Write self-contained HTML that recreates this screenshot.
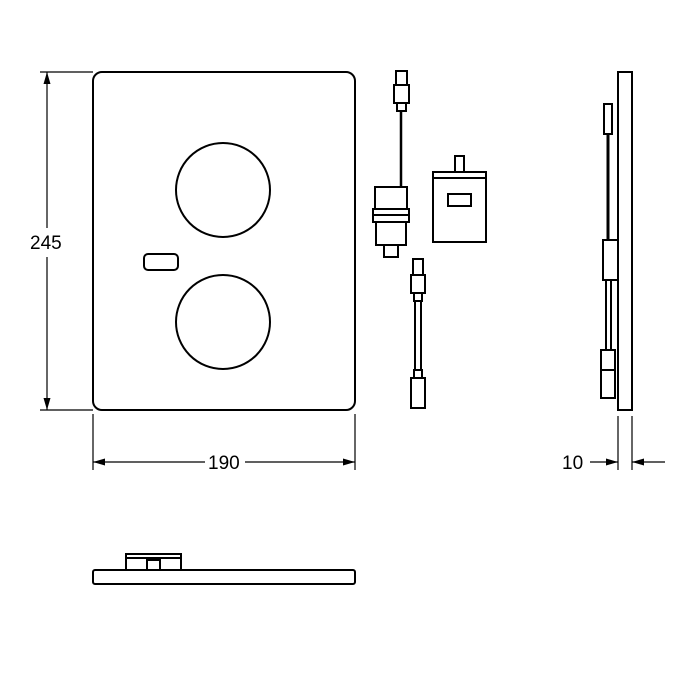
<!DOCTYPE html>
<html><head><style>body{margin:0;background:#fff}svg{display:block}</style></head><body>
<svg width="700" height="700" viewBox="0 0 700 700" xmlns="http://www.w3.org/2000/svg" fill="none" stroke="#000" stroke-width="2">
<defs><marker id="a" viewBox="0 0 12 7" refX="12" refY="3.5" markerWidth="12" markerHeight="7" orient="auto-start-reverse" markerUnits="userSpaceOnUse"><path d="M0,0L12,3.5L0,7z" fill="#000" stroke="none"/></marker></defs>
<!-- main plate -->
<rect x="93" y="72" width="262" height="338" rx="9"/>
<circle cx="223" cy="190" r="47"/>
<circle cx="223" cy="322" r="47"/>
<rect x="144" y="254" width="34" height="16" rx="4"/>
<!-- dims -->
<g stroke-width="1.2">
<line x1="40" y1="72" x2="93" y2="72"/><line x1="40" y1="410" x2="93" y2="410"/>
<line x1="47" y1="72" x2="47" y2="228" marker-start="url(#a)"/>
<line x1="47" y1="257" x2="47" y2="410" marker-end="url(#a)"/>
<line x1="93" y1="414" x2="93" y2="470"/><line x1="355" y1="414" x2="355" y2="470"/>
<line x1="93" y1="462" x2="205" y2="462" marker-start="url(#a)"/>
<line x1="245" y1="462" x2="355" y2="462" marker-end="url(#a)"/>
<line x1="618" y1="416" x2="618" y2="470"/><line x1="632" y1="416" x2="632" y2="470"/>
<line x1="590" y1="462" x2="618" y2="462" marker-end="url(#a)"/>
<line x1="665" y1="462" x2="632" y2="462" marker-end="url(#a)"/>
</g>
<g font-family="Liberation Sans, sans-serif" font-size="19" fill="#000" stroke="none">
<text x="30" y="249">245</text>
<text x="208" y="469">190</text>
<text x="562" y="469">10</text>
</g>
<!-- side view -->
<rect x="618" y="72" width="14" height="338"/>
<rect x="604" y="104" width="8" height="30"/>
<line x1="608" y1="134" x2="608" y2="240" stroke-width="3"/>
<rect x="603" y="240" width="15" height="40"/>
<line x1="606" y1="280" x2="606" y2="350"/><line x1="611" y1="280" x2="611" y2="350"/>
<rect x="601" y="350" width="14" height="48"/>
<line x1="601" y1="370" x2="615" y2="370"/>
<!-- bottom view -->
<rect x="93" y="570" width="262" height="14" rx="2"/>
<rect x="126" y="554" width="55" height="16"/>
<line x1="126" y1="558" x2="181" y2="558"/>
<rect x="147" y="560" width="13" height="10"/>
<!-- upper cable + module -->
<rect x="396" y="71" width="11" height="14"/>
<rect x="394" y="85" width="15" height="18"/>
<rect x="397" y="103" width="9" height="8"/>
<line x1="401" y1="111" x2="401" y2="187" stroke-width="2.5"/>
<rect x="375" y="187" width="32" height="22"/>
<rect x="373" y="209" width="36" height="13"/>
<line x1="373" y1="215" x2="409" y2="215"/>
<rect x="376" y="222" width="30" height="23"/>
<rect x="384" y="245" width="14" height="12"/>
<!-- box -->
<rect x="433" y="172" width="53" height="70"/>
<line x1="433" y1="178" x2="486" y2="178"/>
<rect x="455" y="156" width="9" height="16"/>
<rect x="448" y="194" width="23" height="12"/>
<!-- lower cable -->
<rect x="413" y="259" width="10" height="16"/>
<rect x="411" y="275" width="14" height="18"/>
<rect x="414" y="293" width="8" height="8"/>
<line x1="415" y1="301" x2="415" y2="370"/><line x1="421" y1="301" x2="421" y2="370"/>
<rect x="414" y="370" width="8" height="8"/>
<rect x="411" y="378" width="14" height="30"/>
</svg>
</body></html>
